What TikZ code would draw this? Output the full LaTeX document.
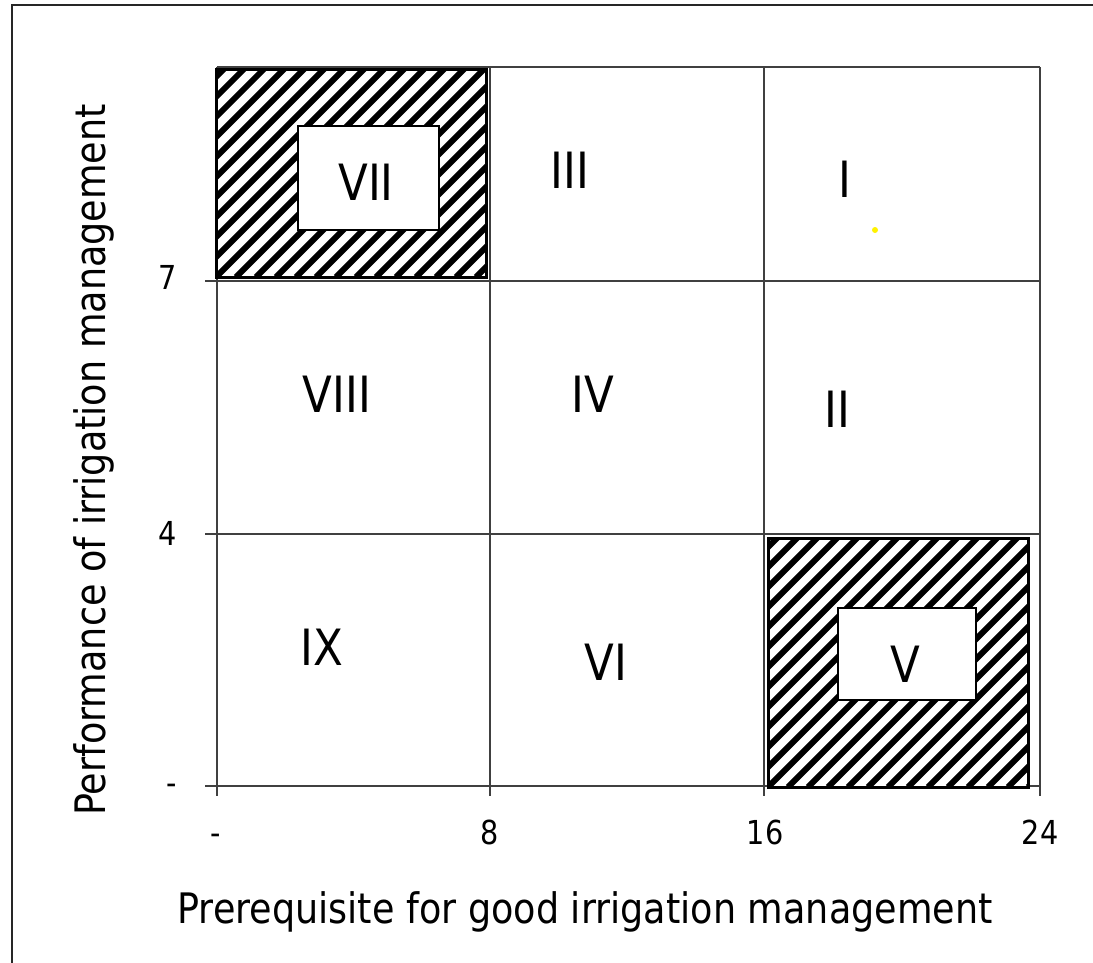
\documentclass[tikz,border=0pt]{standalone}
\usepackage{fontspec}
\setmainfont{DejaVu Sans}[FakeStretch=0.87]
\begin{document}
\begin{tikzpicture}[x=1pt,y=-1pt,
  grid/.style={draw=black!75,line width=1.5pt},
  frame/.style={draw=black!85,line width=2.2pt},
  hatchbox/.style={draw=black,line width=3pt},
  innerbox/.style={draw=black,fill=white,line width=2.2pt},
  numeral/.style={font=\fontsize{50}{50}\selectfont,anchor=base,inner sep=0pt},
  ticklab/.style={font=\fontsize{33}{33}\selectfont,inner sep=0pt},
  axtitle/.style={font=\fontsize{42}{42}\selectfont,inner sep=0pt,anchor=base}]
\useasboundingbox (0,0) rectangle (1093,962);
\fill[white] (0,0) rectangle (1093,962);
\begin{scope}
  \clip (0,0) rectangle (1093,962);
  \draw[frame] (12,5) rectangle (1110,980);
\end{scope}
% grid
\draw[grid] (217,67) -- (1040,67);
\draw[grid] (205,281) -- (1040,281);
\draw[grid] (205,534) -- (1040,534);
\draw[grid] (205,786) -- (1040,786);
\draw[grid] (217,67) -- (217,796);
\draw[grid] (490,67) -- (490,796);
\draw[grid] (764,67) -- (764,796);
\draw[grid] (1040,67) -- (1040,796);
% hatched box VII
\begin{scope}
  \clip (216,69) rectangle (486,277);
  \fill[white] (216,69) rectangle (486,277);
  \foreach \k in {0,...,26} {
    \draw[line width=6pt] (216+\k*20-220,277) -- ++(220,-220);
  }
\end{scope}
\draw[hatchbox] (216,69) rectangle (486,277);
\draw[innerbox] (298,126) rectangle (439,230);
% hatched box V
\begin{scope}
  \clip (768,538) rectangle (1028,787);
  \fill[white] (768,538) rectangle (1028,787);
  \foreach \k in {0,...,28} {
    \draw[line width=6pt] (768+\k*20-260,787) -- ++(260,-260);
  }
\end{scope}
\draw[hatchbox] (768,538) rectangle (1028,787);
\draw[innerbox] (838,608) rectangle (976,700);
% numerals
\node[numeral] (n7) at (366,200) {VII};
\node[numeral] (n3) at (570,188) {III};
\node[numeral] (n1) at (845,197) {I};
\node[numeral] (n8) at (337,412) {VIII};
\node[numeral] (n4) at (593,412) {IV};
\node[numeral] (n2) at (837,427) {II};
\node[numeral] (n9) at (322,665) {IX};
\node[numeral] (n6) at (606,680) {VI};
\node[numeral] (n5) at (905,682) {V};
\fill[yellow] (875,230) circle (3);
% tick labels
\node[ticklab,anchor=base east] (y7) at (177,289) {7};
\node[ticklab,anchor=base east] (y4) at (177,545) {4};
\node[ticklab,anchor=base east] (y0) at (177,794) {-};
\node[ticklab,anchor=base] (x0) at (216,844) {-};
\node[ticklab,anchor=base] (x8) at (490,844) {8};
\node[ticklab,anchor=base] (x16) at (765,844) {16};
\node[ticklab,anchor=base] (x24) at (1040,844) {24};
% axis titles
\node[axtitle] (xt) at (585,923) {Prerequisite for good irrigation management};
\node[axtitle,rotate=90] (yt) at (105,460) {Performance of irrigation management};
\end{tikzpicture}
\end{document}
